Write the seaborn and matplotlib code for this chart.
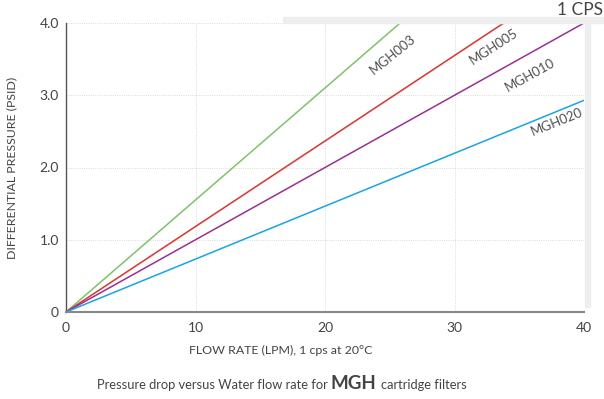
"""Pressure drop versus water flow rate for MGH cartridge filters (1 cps)."""

# %% IMPORTS
import matplotlib
matplotlib.use("Agg")
import matplotlib.pyplot as plt
from matplotlib.patches import Rectangle
import pandas as pd
import seaborn as sns

# %% DATA
models = ["MGH003", "MGH005", "MGH010", "MGH020"]
flow_end = [25.8, 33.8, 40.0, 40.0]        # LPM where each line stops
dp_end = [4.0, 4.0, 4.0, 2.93]             # PSID at that point
colors = ["#7cc46a", "#e8302a", "#9a2f96", "#1aa3e8"]

# label placement (data coords) and rotation
label_x = [25.2, 33.0, 35.8, 37.9]
label_y = [3.56, 3.67, 3.28, 2.63]
label_rot = [39, 33, 29, 22]

rows = []
for m, fx, py in zip(models, flow_end, dp_end):
    rows.append({"model": m, "flow": 0.0, "dp": 0.0})
    rows.append({"model": m, "flow": fx, "dp": py})
df = pd.DataFrame(rows)

# %% VISUALISE
sns.set_style("white")
plt.rcParams["font.family"] = ["Lato", "DejaVu Sans"]
txt = "#444444"

fig = plt.figure(figsize=(6.04, 3.99), dpi=100)

# light grey shadow frame at top/right
fig.patches.append(Rectangle((283 / 604, 1 - 23 / 399), 321 / 604, 6 / 399,
                             transform=fig.transFigure, color="#eeeeee", zorder=0))
fig.patches.append(Rectangle((585 / 604, 1 - 307 / 399), 5 / 604, 284 / 399,
                             transform=fig.transFigure, color="#eeeeee", zorder=0))

ax = fig.add_axes([66 / 604, 1 - 312 / 399, 518 / 604, 289 / 399])
ax.patch.set_alpha(0)

sns.lineplot(data=df, x="flow", y="dp", hue="model", palette=colors,
             linewidth=1.1, legend=False, ax=ax)

for m, lx, ly, r in zip(models, label_x, label_y, label_rot):
    ax.text(lx, ly, m, rotation=r, ha="center", va="center",
            fontsize=9.5, color="#505050")

ax.set_xlim(0, 40)
ax.set_ylim(0, 4.0)
ax.set_xticks([0, 10, 20, 30, 40])
ax.set_yticks([0, 1, 2, 3, 4])
ax.set_yticklabels(["0", "1.0", "2.0", "3.0", "4.0"])
ax.tick_params(length=0, labelsize=10, colors=txt)
ax.tick_params(axis="y", pad=5)
ax.tick_params(axis="x", pad=7)
ax.grid(True, linestyle=":", linewidth=0.6, color="#cfcfcf")

for s in ["top", "right"]:
    ax.spines[s].set_visible(False)
ax.spines["left"].set_color("#555555")
ax.spines["left"].set_linewidth(1.0)
ax.spines["bottom"].set_color("#888888")
ax.spines["bottom"].set_linewidth(1.5)

ax.set_xlabel("FLOW RATE (LPM), 1 cps at 20°C", fontsize=8.9, color=txt)
ax.xaxis.set_label_coords((281 - 66) / 518, -(345 - 312) / 289)
ax.set_ylabel("DIFFERENTIAL PRESSURE (PSID)", fontsize=8.9, color=txt)
ax.yaxis.set_label_coords(-(66 - 17) / 518, 0.5)

fig.text(1 - 1 / 604, 1 - 10 / 399, "1 CPS", ha="right", va="center",
         fontsize=12.5, color=txt)

# caption with bold model name
cy = 1 - 385 / 399
fig.text(328 / 604, cy, "Pressure drop versus Water flow rate for", ha="right",
         va="center", fontsize=9.3, color=txt)
fig.text(331 / 604, cy + 0.004, "MGH", ha="left", va="center", fontsize=13.5,
         fontweight="bold", color=txt)
fig.text(381 / 604, cy, "cartridge filters", ha="left", va="center",
         fontsize=9.3, color=txt)

fig.savefig("out.png", dpi=100)
